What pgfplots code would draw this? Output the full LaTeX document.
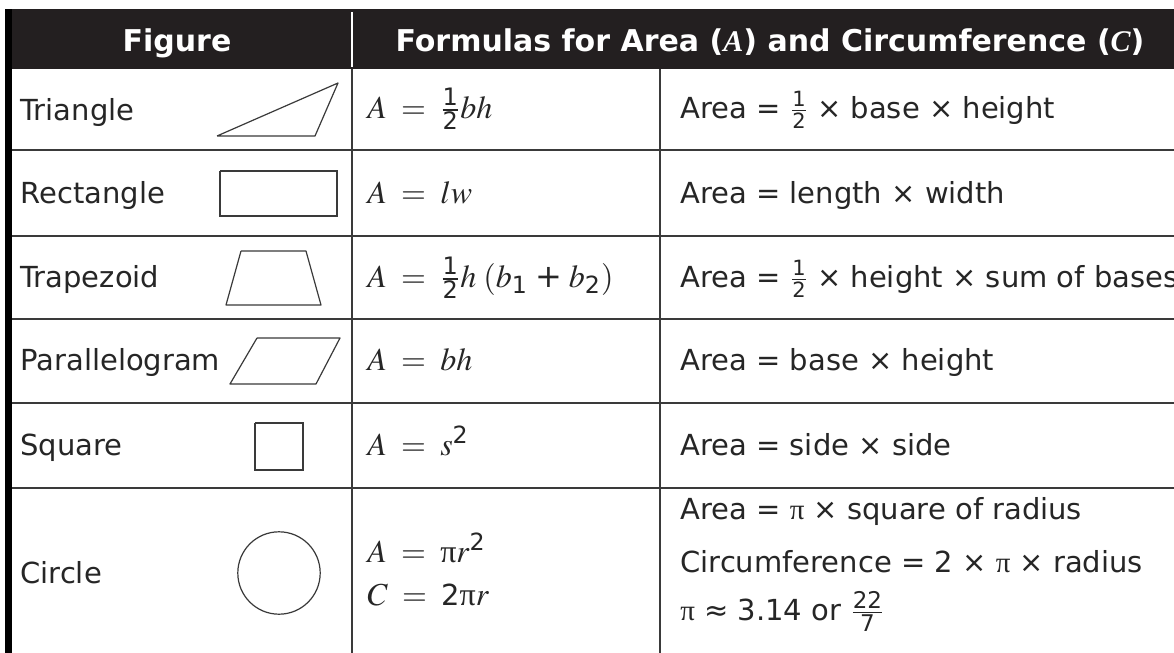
\documentclass[border=0pt]{standalone}
\usepackage{amsmath}
\usepackage{mathptmx}
\usepackage{fontspec}
\setmainfont{DejaVu Sans}
\newfontfamily\ser{Liberation Serif}
\usepackage{pgfplots}
\pgfplotsset{compat=1.18}
\definecolor{hdr}{HTML}{231F20}
\definecolor{txt}{HTML}{262626}
\definecolor{ln}{HTML}{3A3A3A}
\newcommand{\dg}[1]{\text{#1}}
\newcommand{\pii}{\text{\ser π}}
\newcommand{\fr}[3]{\genfrac{}{}{}{1}{\mbox{\fontsize{#1}{#1}\selectfont #2}}{\mbox{\fontsize{#1}{#1}\selectfont #3}}}
\tikzset{
  lbl/.style={anchor=base west, inner sep=0pt, text=txt, font=\fontsize{14.5}{16}\selectfont},
  mth/.style={anchor=base west, inner sep=0pt, text=txt, font=\fontsize{16}{18}\selectfont},
  hd/.style={anchor=base, inner sep=0pt, text=white, font=\fontsize{15}{17}\selectfont\bfseries}}
\begin{document}
\begin{tikzpicture}
\path[use as bounding box, clip] (0,0) rectangle (587pt,326.5pt);
\begin{axis}[at={(0,0)}, anchor=south west, scale only axis,
  width=587pt, height=326.5pt, xmin=0, xmax=1174, ymin=0, ymax=653,
  y dir=reverse, hide axis, clip=false]
% background
\addplot[fill=white, draw=none] coordinates {(0,0)(1174,0)(1174,653)(0,653)};
% header
\addplot[fill=hdr, draw=none] coordinates {(5,9)(1174,9)(1174,69)(5,69)};
\addplot[draw=white, line width=0.8pt] coordinates {(352,12)(352,67)};
% grid lines
\addplot[draw=black, line width=3.5pt] coordinates {(8.5,9)(8.5,653)};
\addplot[draw=ln, line width=1pt] coordinates {(352,69)(352,653)};
\addplot[draw=ln, line width=1pt] coordinates {(660,69)(660,653)};
\addplot[draw=ln, line width=0.9pt] coordinates {(12,150)(1174,150)};
\addplot[draw=ln, line width=0.9pt] coordinates {(12,236)(1174,236)};
\addplot[draw=ln, line width=0.9pt] coordinates {(12,319)(1174,319)};
\addplot[draw=ln, line width=0.9pt] coordinates {(12,403)(1174,403)};
\addplot[draw=ln, line width=0.9pt] coordinates {(12,488)(1174,488)};
% shapes
\addplot[draw=ln, line width=0.6pt, line join=round] coordinates {(217,136)(338,83)(315,136)(217,136)};
\addplot[draw=ln, line width=0.6pt] coordinates {(220,171)(337,171)(337,216)(220,216)(220,171)};
\addplot[draw=ln, line width=0.6pt, line join=round] coordinates {(241,251)(306,251)(321,305)(226,305)(241,251)};
\addplot[draw=ln, line width=0.6pt, line join=round] coordinates {(257,338)(340,338)(316,384)(230,384)(257,338)};
\addplot[draw=ln, line width=1pt] coordinates {(255,423)(303,423)(303,470)(255,470)(255,423)};
\addplot[only marks, mark=o, mark size=20.6pt, mark options={line width=0.6pt, draw=ln}] coordinates {(279,573)};
% header text
\node[hd] at (axis cs:177,51) {Figure};
\node[hd] at (axis cs:770,51) {Formulas for Area ({\ser\itshape A}) and Circumference ({\ser\itshape C})};
% column 1
\node[lbl] at (axis cs:20,120) {Triangle};
\node[lbl] at (axis cs:20,203) {Rectangle};
\node[lbl] at (axis cs:20,287) {Trapezoid};
\node[lbl] at (axis cs:20,370) {Parallelogram};
\node[lbl] at (axis cs:20,455) {Square};
\node[lbl] at (axis cs:20,583) {Circle};
% column 2
\node[mth] at (axis cs:367,118) {$A\;=\;\fr{12}{1}{2}bh$};
\node[mth] at (axis cs:367,203) {$A\;=\;lw$};
\node[mth] at (axis cs:367,287) {$A\;=\;\fr{12}{1}{2}h\;(b_{\dg{1}}\;\text{+}\;b_{\dg{2}})$};
\node[mth] at (axis cs:367,370) {$A\;=\;bh$};
\node[mth] at (axis cs:367,455) {$A\;=\;s^{\dg{2}}$};
\node[mth] at (axis cs:367,562) {$A\;=\;\pii r^{\dg{2}}$};
\node[mth] at (axis cs:367,605) {$C\;=\;\mbox{\fontsize{14.5}{15}\selectfont 2}\pii r$};
% column 3
\node[lbl] at (axis cs:680,118) {Area = $\fr{10.5}{1}{2}$ × base × height};
\node[lbl] at (axis cs:680,203) {Area = length × width};
\node[lbl] at (axis cs:680,287) {Area = $\fr{10.5}{1}{2}$ × height × sum of bases};
\node[lbl] at (axis cs:680,370) {Area = base × height};
\node[lbl] at (axis cs:680,455) {Area = side × side};
\node[lbl] at (axis cs:680,519) {Area = {\ser π} × square of radius};
\node[lbl] at (axis cs:680,572) {Circumference = 2 × {\ser π} × radius};
\node[lbl] at (axis cs:680,620) {{\ser π} ≈ 3.14 or $\fr{11.5}{22}{7}$};
\end{axis}
\end{tikzpicture}
\end{document}
